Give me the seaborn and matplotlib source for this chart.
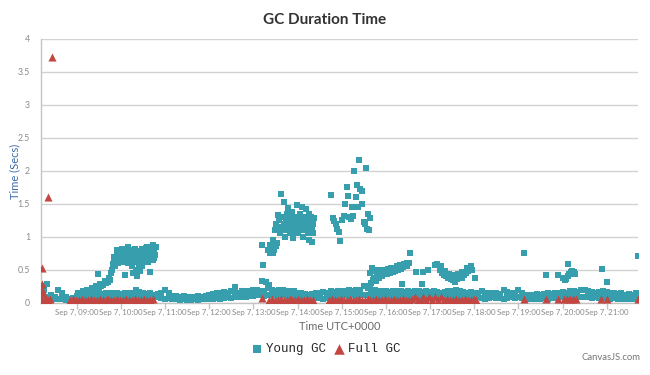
import matplotlib
matplotlib.use("Agg")
import matplotlib.pyplot as plt
import matplotlib.dates as mdates
from matplotlib.ticker import FuncFormatter
import pandas as pd
import seaborn as sns

day = pd.Timestamp("2015-09-07")

# young GC baseline band, every 5 minutes from 08:15 to 21:40 (low / high edge)
base_lo = [
    0.05, 0.08, 0.04, 0.05, 0.06, 0.05, 0.04, 0.05, 0.06,
    0.07, 0.08, 0.07, 0.08, 0.07, 0.08, 0.09, 0.08, 0.09, 0.08, 0.09, 0.08,
    0.08, 0.09, 0.08, 0.09, 0.10, 0.09, 0.08, 0.09, 0.08, 0.09, 0.08, 0.07,
    0.06, 0.07, 0.05, 0.05, 0.04, 0.05, 0.04, 0.04, 0.05, 0.04, 0.05, 0.05,
    0.05, 0.06, 0.07, 0.06, 0.07, 0.08, 0.07, 0.08, 0.09, 0.08, 0.09, 0.10,
    0.10, 0.12, 0.11, 0.10, 0.11, 0.12, 0.11, 0.10, 0.11, 0.10, 0.10, 0.09,
    0.09, 0.08, 0.09, 0.08, 0.08, 0.07, 0.07, 0.06, 0.07, 0.09, 0.10, 0.09,
    0.10, 0.11, 0.10, 0.11, 0.10, 0.11, 0.12, 0.11, 0.10, 0.10, 0.09, 0.10,
    0.09, 0.10, 0.09, 0.10, 0.09, 0.10, 0.09, 0.10, 0.09, 0.10, 0.09, 0.10,
    0.09, 0.10, 0.09, 0.10, 0.09, 0.10, 0.09, 0.10, 0.09, 0.10, 0.09, 0.09,
    0.07, 0.08, 0.07, 0.06, 0.07, 0.08, 0.07, 0.07, 0.06, 0.07, 0.08, 0.07,
    0.08, 0.07, 0.06, 0.06, 0.05, 0.06, 0.06, 0.07, 0.06, 0.07, 0.07, 0.08,
    0.08, 0.07, 0.08, 0.08, 0.09, 0.08, 0.09, 0.08, 0.07, 0.08, 0.07, 0.08,
    0.07, 0.06, 0.07, 0.06, 0.06, 0.05, 0.06, 0.06, 0.05,
]
base_hi = [
    0.20, 0.28, 0.12, 0.08, 0.20, 0.14, 0.08, 0.06, 0.07,
    0.10, 0.11, 0.12, 0.12, 0.13, 0.12, 0.14, 0.13, 0.14, 0.14, 0.15, 0.14,
    0.13, 0.14, 0.14, 0.15, 0.19, 0.16, 0.14, 0.13, 0.14, 0.12, 0.13, 0.14,
    0.20, 0.15, 0.10, 0.10, 0.09, 0.10, 0.09, 0.08, 0.09, 0.10, 0.09, 0.10,
    0.11, 0.13, 0.15, 0.14, 0.16, 0.15, 0.17, 0.16, 0.15, 0.17, 0.18, 0.17,
    0.19, 0.20, 0.18, 0.17, 0.22, 0.20, 0.18, 0.19, 0.20, 0.18, 0.17, 0.18,
    0.15, 0.14, 0.13, 0.12, 0.13, 0.14, 0.15, 0.16, 0.15, 0.17, 0.16, 0.18,
    0.17, 0.18, 0.19, 0.18, 0.19, 0.20, 0.25, 0.22, 0.20, 0.19, 0.18, 0.17,
    0.17, 0.16, 0.17, 0.18, 0.17, 0.16, 0.17, 0.16, 0.18, 0.17, 0.16, 0.17,
    0.16, 0.17, 0.16, 0.15, 0.16, 0.17, 0.18, 0.20, 0.17, 0.16, 0.15, 0.16,
    0.14, 0.15, 0.18, 0.15, 0.14, 0.15, 0.14, 0.13, 0.20, 0.16, 0.14, 0.15,
    0.20, 0.15, 0.12, 0.11, 0.12, 0.13, 0.12, 0.13, 0.14, 0.13, 0.14, 0.15,
    0.16, 0.15, 0.17, 0.18, 0.16, 0.20, 0.19, 0.17, 0.16, 0.15, 0.16, 0.17,
    0.16, 0.15, 0.14, 0.13, 0.14, 0.12, 0.13, 0.12, 0.15,
]

# young GC clusters above the band
morning_pts = [
    ("09:00", 0.10), ("09:03", 0.12), ("09:06", 0.11), ("09:09", 0.14), ("09:12", 0.13),
    ("09:15", 0.16), ("09:18", 0.18), ("09:21", 0.17), ("09:24", 0.20), ("09:27", 0.22),
    ("09:29", 0.44), ("09:30", 0.21), ("09:33", 0.25), ("09:36", 0.27), ("09:39", 0.30),
    ("09:42", 0.31), ("09:45", 0.35), ("09:02", 0.15), ("09:08", 0.17), ("09:14", 0.20),
    ("09:20", 0.22), ("09:26", 0.25), ("09:32", 0.28), ("09:38", 0.33), ("09:44", 0.38),
    ("09:46", 0.45), ("09:48", 0.50), ("09:49", 0.58), ("09:50", 0.62), ("09:52", 0.55),
    ("09:53", 0.68), ("09:55", 0.72), ("09:56", 0.60), ("09:58", 0.78), ("10:00", 0.75),
    ("10:01", 0.70), ("10:03", 0.80), ("10:04", 0.72), ("10:05", 0.42), ("10:06", 0.77),
    ("10:08", 0.82), ("10:09", 0.70), ("10:11", 0.75), ("10:12", 0.65), ("10:13", 0.80),
    ("10:15", 0.55), ("10:16", 0.72), ("10:17", 0.45), ("10:18", 0.62), ("10:19", 0.82),
    ("10:20", 0.50), ("10:21", 0.68), ("10:22", 0.40), ("10:24", 0.58), ("10:25", 0.75),
    ("10:26", 0.48), ("10:27", 0.65), ("10:28", 0.55), ("10:30", 0.72), ("10:31", 0.80),
    ("10:32", 0.62), ("10:34", 0.83), ("10:35", 0.68), ("10:36", 0.76), ("10:37", 0.62),
    ("10:38", 0.80), ("10:39", 0.47), ("10:40", 0.70), ("10:41", 0.85), ("10:42", 0.75),
    ("10:43", 0.88), ("10:44", 0.65), ("10:45", 0.80), ("10:46", 0.72), ("10:47", 0.85),
    ("09:51", 0.70), ("09:54", 0.80), ("09:57", 0.70), ("09:59", 0.65), ("10:02", 0.62),
    ("10:02", 0.82), ("10:07", 0.66), ("10:07", 0.79), ("10:10", 0.60), ("10:10", 0.84),
    ("10:14", 0.70), ("10:14", 0.62), ("10:23", 0.62), ("10:23", 0.78), ("10:29", 0.68),
    ("10:29", 0.82), ("10:33", 0.76), ("10:36", 0.84), ("10:42", 0.82), ("10:45", 0.68),
    ("12:35", 0.24),
]
midday_pts = [
    ("13:11", 0.33), ("13:12", 0.88), ("13:13", 0.57), ("13:17", 0.32), ("13:21", 0.27),
    ("13:20", 0.80), ("13:22", 0.76), ("13:24", 0.75), ("13:26", 0.76), ("13:28", 0.80),
    ("13:30", 0.86), ("13:26", 0.95), ("13:32", 0.90), ("13:22", 0.87),
    ("13:29", 1.10), ("13:31", 1.20), ("13:33", 1.33), ("13:35", 1.25), ("13:36", 1.05),
    ("13:37", 1.10), ("13:38", 1.65), ("13:39", 1.15), ("13:40", 1.30), ("13:41", 1.20),
    ("13:42", 1.53), ("13:43", 1.00), ("13:44", 1.25), ("13:45", 1.35), ("13:46", 1.10),
    ("13:47", 1.43), ("13:48", 1.20), ("13:49", 1.30), ("13:50", 1.05), ("13:51", 1.15),
    ("13:52", 1.38), ("13:53", 1.25), ("13:54", 0.98), ("13:55", 1.10), ("13:56", 1.20),
    ("13:57", 1.30), ("13:58", 1.15), ("13:59", 1.48), ("14:00", 1.25), ("14:01", 1.05),
    ("14:02", 1.20), ("14:03", 1.35), ("14:04", 1.15), ("14:05", 1.10), ("14:06", 1.45),
    ("14:07", 1.25), ("14:08", 1.00), ("14:09", 1.18), ("14:10", 1.30), ("14:11", 1.12),
    ("14:12", 1.42), ("14:13", 1.20), ("14:14", 1.05), ("14:15", 1.25), ("14:16", 0.95),
    ("14:17", 1.15), ("14:18", 1.30), ("14:19", 1.10), ("14:20", 0.92), ("14:21", 1.20),
    ("14:22", 1.28),
    ("13:34", 1.15), ("13:36", 1.30), ("13:40", 1.10), ("13:43", 1.30), ("13:46", 1.22),
    ("13:50", 1.25), ("13:53", 1.10), ("13:57", 1.05), ("14:00", 1.15), ("14:03", 1.10),
    ("14:06", 1.20), ("14:09", 1.30), ("14:12", 1.10), ("14:15", 1.35), ("14:18", 1.20),
    ("14:21", 1.05),
]
peak_pts = [
    ("14:46", 1.63), ("14:48", 1.28), ("14:50", 1.24), ("14:52", 1.20), ("14:54", 1.12),
    ("14:56", 1.08), ("14:58", 0.93), ("15:00", 1.25), ("15:03", 1.32), ("15:05", 1.50),
    ("15:07", 1.76), ("15:08", 1.62), ("15:10", 1.30), ("15:12", 1.27), ("15:14", 1.45),
    ("15:15", 1.31), ("15:17", 2.00), ("15:19", 1.60), ("15:21", 1.78), ("15:22", 1.45),
    ("15:24", 2.16), ("15:25", 1.72), ("15:27", 1.70), ("15:28", 1.50), ("15:30", 1.23),
    ("15:31", 1.20), ("15:33", 2.05), ("15:34", 1.12), ("15:36", 1.35), ("15:37", 1.10),
    ("15:39", 1.28),
]
afternoon_pts = [
    ("15:38", 0.25), ("15:40", 0.30), ("15:41", 0.52), ("15:42", 0.35), ("15:44", 0.38),
    ("15:46", 0.33), ("15:48", 0.40), ("15:50", 0.38), ("15:52", 0.42), ("15:54", 0.40),
    ("15:56", 0.44), ("15:58", 0.43), ("16:00", 0.45), ("16:02", 0.44), ("16:04", 0.46),
    ("16:06", 0.45), ("16:08", 0.47), ("16:10", 0.46), ("16:12", 0.48), ("16:14", 0.50),
    ("16:16", 0.49), ("16:18", 0.52), ("16:20", 0.51), ("16:22", 0.28), ("16:23", 0.54),
    ("16:25", 0.55), ("16:27", 0.57), ("16:29", 0.56), ("16:31", 0.60), ("16:33", 0.75),
    ("15:39", 0.45), ("15:43", 0.48), ("15:47", 0.50), ("15:51", 0.48), ("15:55", 0.50),
    ("15:59", 0.50), ("16:03", 0.51), ("16:07", 0.52), ("16:11", 0.53), ("16:15", 0.55),
    ("16:19", 0.57), ("16:24", 0.59), ("16:28", 0.60),
    ("16:41", 0.47), ("16:49", 0.29), ("16:51", 0.47), ("16:57", 0.50), ("17:06", 0.57),
    ("17:09", 0.58), ("17:13", 0.50), ("17:15", 0.55), ("17:16", 0.45), ("17:19", 0.42),
    ("17:20", 0.48), ("17:22", 0.40), ("17:25", 0.38), ("17:26", 0.44), ("17:28", 0.36),
    ("17:31", 0.35), ("17:32", 0.42), ("17:34", 0.31), ("17:37", 0.36), ("17:38", 0.44),
    ("17:40", 0.40), ("17:43", 0.38), ("17:44", 0.47), ("17:46", 0.42), ("17:49", 0.45),
    ("17:50", 0.52), ("17:52", 0.48), ("17:55", 0.55), ("17:57", 0.50), ("18:01", 0.38),
]
evening_pts = [
    ("19:07", 0.76), ("19:38", 0.42), ("19:54", 0.42), ("20:01", 0.38), ("20:03", 0.34),
    ("20:05", 0.36), ("20:07", 0.40), ("20:08", 0.58), ("20:09", 0.44), ("20:11", 0.47),
    ("20:13", 0.48), ("20:15", 0.46), ("20:17", 0.43), ("20:53", 0.51), ("21:00", 0.31),
    ("21:42", 0.71),
]

# full GC events: minutes after 08:00 and duration
full_gc_minute = [
    13, 13, 13, 14, 21, 26,
    12, 15, 18, 21, 24,
    51, 55, 59, 63, 67, 71, 75, 79, 83, 87, 91, 95, 99, 103, 107, 111, 115, 119,
    123, 127, 131, 135, 139, 143, 147, 151, 155, 159, 163,
    312,
    321, 325, 329, 333, 337, 341, 345, 349, 353, 357, 361, 365, 369, 373, 377, 381,
    403, 407, 411, 415, 419, 423, 427, 431, 435, 439, 443, 447, 451, 455, 459, 463,
    467, 471, 475, 479, 483, 487, 491, 495, 499, 503, 507, 511, 515, 519, 523, 527,
    531, 535, 539, 543, 547, 551, 555, 559, 563, 567, 571, 575, 579, 583, 587, 591,
    595, 599, 603,
    667, 697, 714, 722, 726, 730, 734, 738, 772, 781, 822,
]
full_gc_secs = [
    0.52, 0.29, 0.19, 0.14, 1.61, 3.72,
    0.05, 0.04, 0.05, 0.04, 0.05,
    0.04, 0.05, 0.04, 0.04, 0.05, 0.04, 0.04, 0.05, 0.04, 0.04, 0.05, 0.04, 0.04, 0.05,
    0.04, 0.04, 0.05, 0.04, 0.04, 0.05, 0.04, 0.04, 0.05, 0.04, 0.04, 0.05, 0.04, 0.04, 0.05,
    0.07,
    0.04, 0.05, 0.04, 0.04, 0.05, 0.04, 0.04, 0.05, 0.04, 0.04, 0.05, 0.04, 0.04, 0.05, 0.04, 0.04,
    0.04, 0.05, 0.04, 0.04, 0.05, 0.04, 0.04, 0.05, 0.04, 0.04,
    0.05, 0.04, 0.04, 0.05, 0.04, 0.04, 0.05, 0.04, 0.04, 0.05,
    0.04, 0.04, 0.05, 0.04, 0.04, 0.05, 0.04, 0.04, 0.05, 0.08,
    0.04, 0.04, 0.08, 0.04, 0.08, 0.04, 0.08, 0.04, 0.08, 0.04,
    0.05, 0.04, 0.04, 0.05, 0.04, 0.04, 0.05, 0.04, 0.04, 0.05,
    0.04,
    0.06, 0.05, 0.05, 0.05, 0.05, 0.05, 0.05, 0.05, 0.05, 0.06, 0.06,
]

y_ticks = [0, 0.5, 1, 1.5, 2, 2.5, 3, 3.5, 4]
y_tick_labels = ["0", "0.5", "1", "1.5", "2", "2.5", "3", "3.5", "4"]

teal = "#369EAD"
red = "#C24642"

# build the frames
base_times = pd.date_range(day + pd.Timedelta("08:15:00"), day + pd.Timedelta("21:40:00"), freq="5min")
assert len(base_times) == len(base_lo) == len(base_hi)

cluster_pts = morning_pts + midday_pts + peak_pts + afternoon_pts + evening_pts
young = pd.concat([
    pd.DataFrame({"time": base_times, "secs": base_lo}),
    pd.DataFrame({"time": base_times, "secs": base_hi}),
    pd.DataFrame({"time": [day + pd.Timedelta(t + ":00") for t, _ in cluster_pts],
                  "secs": [v for _, v in cluster_pts]}),
], ignore_index=True)

assert len(full_gc_minute) == len(full_gc_secs)
full = pd.DataFrame({
    "time": [day + pd.Timedelta(hours=8, minutes=m) for m in full_gc_minute],
    "secs": full_gc_secs,
})

sns.set_style("white")
plt.rcParams["font.family"] = ["Lato", "DejaVu Sans"]

fig = plt.figure(figsize=(6.5, 3.75), dpi=100)
ax = fig.add_axes([41 / 650, 1 - 302.7 / 375, 597 / 650, 263.7 / 375])

sns.scatterplot(data=young, x="time", y="secs", marker="s", color=teal, s=17,
                linewidth=0, label="Young GC", ax=ax, zorder=3)
sns.scatterplot(data=full, x="time", y="secs", marker="^", color=red, s=34,
                linewidth=0, label="Full GC", ax=ax, zorder=5)

ax.set_ylim(0, 4)
ax.set_yticks(y_ticks)
ax.set_yticklabels(y_tick_labels)
ax.set_xlim(day + pd.Timedelta("08:11:20"), day + pd.Timedelta("21:42:30"))

ax.xaxis.set_major_locator(mdates.HourLocator(byhour=range(9, 22)))
ax.xaxis.set_major_formatter(FuncFormatter(
    lambda x, pos: "Sep 7, " + mdates.num2date(x).strftime("%H:%M")))

ax.yaxis.grid(True, color="#d2d2d2", linewidth=1)
ax.xaxis.grid(False)
ax.set_axisbelow(True)
for side in ["top", "right"]:
    ax.spines[side].set_visible(False)
for side in ["left", "bottom"]:
    ax.spines[side].set_color("#c4c4c4")
    ax.spines[side].set_linewidth(1)

ax.tick_params(axis="x", length=4, width=1, color="#c4c4c4", labelsize=5.7,
               labelcolor="#8a8a8a", pad=0.5, bottom=True)
ax.tick_params(axis="y", length=0, labelsize=6.3, labelcolor="#8a8a8a", pad=8)
ax.set_xlabel("")
ax.set_ylabel("")

fig.text(0.5, 1 - 20 / 375, "GC Duration Time", ha="center", va="center",
         fontsize=11, fontweight="bold", color="#333333")
fig.text(15 / 650, 1 - 171 / 375, "Time (Secs)", ha="center", va="center",
         rotation=90, fontsize=8, color="#3d6aa8")
fig.text(339.5 / 650, 1 - 326.7 / 375, "Time UTC+0000", ha="center", va="center",
         fontsize=8, color="#6a6a6a")
fig.text(641 / 650, 1 - 357 / 375, "CanvasJS.com", ha="right", va="center",
         fontsize=6.8, color="#777777")

handles, labels = ax.get_legend_handles_labels()
ax.get_legend().remove()
fig.legend(handles, labels, loc="center", bbox_to_anchor=(325.5 / 650, 1 - 349 / 375),
           ncol=2, frameon=False, prop={"family": "Liberation Mono", "size": 9},
           handletextpad=0.2, columnspacing=0.6, markerscale=1.3, handlelength=1.0)

fig.savefig("out.png", dpi=100)
